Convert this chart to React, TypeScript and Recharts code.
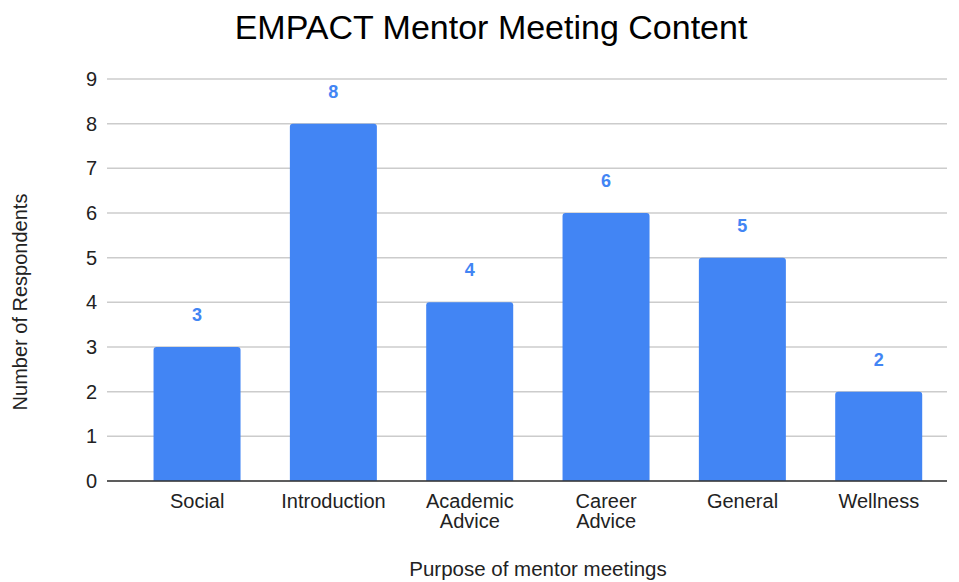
import React from 'react';
import { BarChart, Bar, XAxis, YAxis, CartesianGrid, LabelList } from 'recharts';

const categories = ['Social', 'Introduction', 'Academic Advice', 'Career Advice', 'General', 'Wellness'];
const respondents = [3, 8, 4, 6, 5, 2];
const yTicks = [0, 1, 2, 3, 4, 5, 6, 7, 8, 9];

const data = categories.map((c, i) => ({ name: c, value: respondents[i] }));

const FONT = '"Liberation Sans", Arial, sans-serif';
const BLUE = '#4285F4';

const XTick = (props: any) => {
  const { x, y, payload } = props;
  const words = String(payload.value).split(' ');
  const lines = words.length > 1 && payload.value.length > 8 ? [words[0], words.slice(1).join(' ')] : [payload.value];
  return (
    <g>
      {lines.map((l: string, i: number) => (
        <text key={i} x={x} y={y + 19 + i * 20} textAnchor="middle" fontFamily={FONT} fontSize={20} fill="#222">
          {l}
        </text>
      ))}
    </g>
  );
};

export default function App() {
  return (
    <div style={{ position: 'absolute', left: 0, top: 0, width: 959, height: 582, background: '#fff' }}>
      <div style={{ position: 'absolute', left: 0, top: 8, width: 982, textAlign: 'center', fontFamily: FONT, fontSize: 34, color: '#000' }}>
        EMPACT Mentor Meeting Content
      </div>
      <BarChart
        width={959}
        height={582}
        data={data}
        margin={{ top: 79, right: 12, bottom: 0, left: 0 }}
        barCategoryGap="18%"
      >
        <CartesianGrid horizontal vertical={false} stroke="#cccccc" strokeWidth={1.5} />
        <XAxis
          dataKey="name"
          padding={{ left: 22, right: 0 }}
          axisLine={{ stroke: '#333', strokeWidth: 1.5 }}
          tickLine={false}
          tick={<XTick />}
          interval={0}
          height={101}
          label={{
            content: () => (
              <text x={538} y={576} textAnchor="middle" fontFamily={FONT} fontSize={20.5} fill="#222">
                Purpose of mentor meetings
              </text>
            ),
          }}
        />
        <YAxis
          domain={[0, 9]}
          ticks={yTicks}
          interval={0}
          width={107}
          axisLine={false}
          tickLine={false}
          tickMargin={4}
          tick={{ fontFamily: FONT, fontSize: 20, fill: '#222' }}
          label={{
            content: () => (
              <text x={27} y={302} transform="rotate(-90 27 302)" textAnchor="middle" fontFamily={FONT} fontSize={20} fill="#222">
                Number of Respondents
              </text>
            ),
          }}
        />
        <Bar dataKey="value" fill={BLUE} radius={[3, 3, 0, 0]} isAnimationActive={false}>
          <LabelList dataKey="value" position="top" offset={26} style={{ fontFamily: FONT, fontSize: 18, fontWeight: 'bold', fill: BLUE }} />
        </Bar>
      </BarChart>
    </div>
  );
}
